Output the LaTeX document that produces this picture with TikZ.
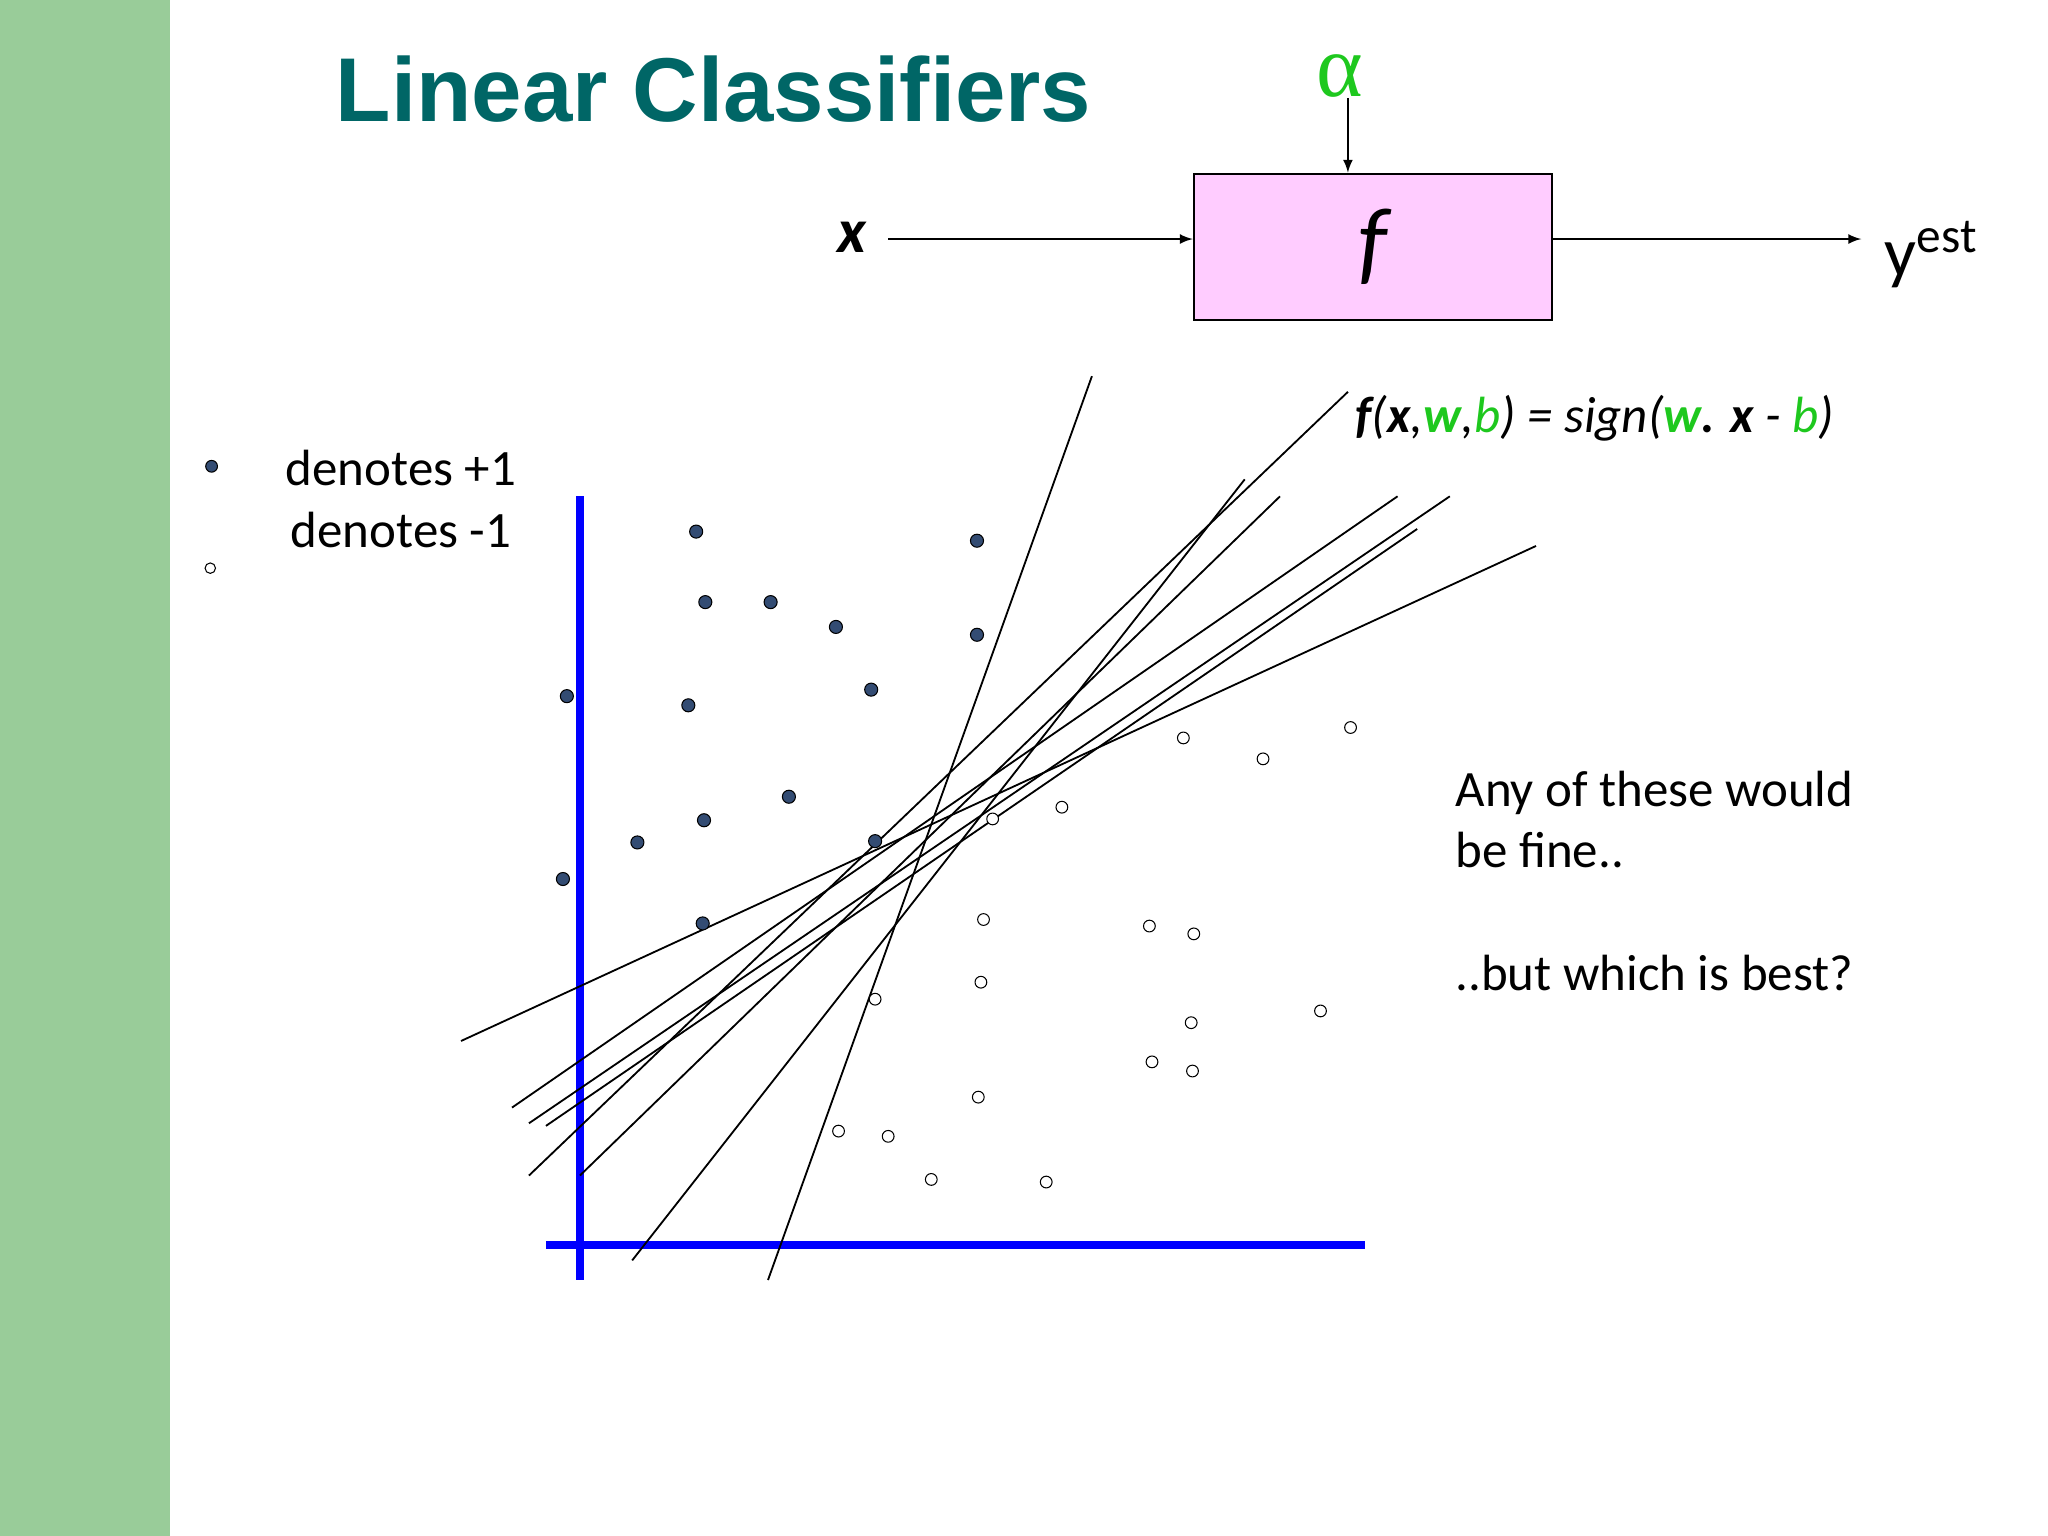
\documentclass[tikz,border=0pt]{standalone}
\usepackage{fontspec}
\setmainfont{Carlito}
\newfontfamily\titlefont{Liberation Sans}
\newfontfamily\greekfont{Liberation Serif}
\definecolor{side}{RGB}{153,204,153}
\definecolor{teal}{RGB}{0,102,102}
\definecolor{boxpink}{RGB}{255,204,255}
\definecolor{ptblue}{RGB}{51,76,115}
\definecolor{gr}{RGB}{30,200,30}
\begin{document}
\begin{tikzpicture}[x=0.5pt,y=-0.5pt,
  posdot/.style={fill=ptblue,draw=black,line width=0.4pt},
  negdot/.style={fill=white,draw=black,line width=0.4pt},
  sepline/.style={line width=0.7pt},
  arr/.style={-latex,line width=0.7pt},
  txt/.style={font=\fontsize{19.5}{23.5}\selectfont,inner sep=0pt}]
\useasboundingbox (0,0) rectangle (1568,1176);
\fill[side] (0,0) rectangle (130,1176);
\node[anchor=west,text=teal,font=\titlefont\bfseries\fontsize{34.7}{40}\selectfont] (title) at (250,68) {Linear Classifiers};
% block diagram
\node[draw=black,fill=boxpink,line width=0.8pt,minimum width=137pt,minimum height=56pt,font=\itshape\fontsize{36}{40}\selectfont] (f) at (1051,189) {f};
\node[font=\bfseries\itshape\fontsize{24}{26}\selectfont] (x) at (652,182) {x};
\node[text=gr,font=\greekfont\fontsize{34}{36}\selectfont] (al) at (1026,58) {α};
\node[anchor=west,font=\fontsize{27}{30}\selectfont] (y) at (1436,195) {y\textsuperscript{est}};
\coordinate (xa) at (680,183);
\coordinate (aa) at (1032,75);
\draw[arr] (xa) -- (xa -| f.west);
\draw[arr] (aa) -- (aa |- f.north);
\coordinate (ya) at (1425,183);
\draw[arr] (f.east |- xa) -- (ya);
% formula
\node[anchor=west,font=\itshape\fontsize{19.5}{22}\selectfont] (form) at (1031,320)
 {\textbf{f}(\textbf{x},\textcolor{gr}{\textbf{w}},\textcolor{gr}{b}) = sign(\textcolor{gr}{\textbf{w}}\textbf{.} \textbf{x} - \textcolor{gr}{b})};
% legend
\fill[posdot] (162,357) circle (4.5);
\draw[negdot] (161,435) circle (4);
\node[txt] (l1) at (307,358) {denotes +1};
\node[txt] (l2) at (307,406) {denotes -1};
\node[txt,anchor=north west,align=left] (any) at (1114,590) {Any of these would\\be fine..\\[23.5pt]..but which is best?};
% axes
\draw[blue,line width=3pt] (444,380) -- (444,980);
\draw[blue,line width=3pt] (418,953) -- (1045,953);
% lines
\draw[sepline] (836,288) -- (588,980);
\draw[sepline] (1032,300) -- (405,900);
\draw[sepline] (953,367) -- (484,965);
\draw[sepline] (980,380) -- (444,900);
\draw[sepline] (1176,418) -- (353,797);
\draw[sepline] (1110,380) -- (405,860);
\draw[sepline] (1085,405) -- (418,862);
\draw[sepline] (1070,380) -- (392,848);
% points
\foreach \p in {(533,407),(748,414),(540,461),(590,461),(640,480),(748,486),(434,533),(527,540),(667,528),(604,610),(539,628),(488,645),(670,644),(431,673),(538,707)}
  \filldraw[posdot] \p circle (5);
\foreach \p in {(906,565),(967,581),(1034,557),(760,627),(813,618),(753,704),(880,709),(914,715),(670,765),(751,752),(912,783),(1011,774),(882,813),(913,820),(749,840),(642,866),(680,870),(713,903),(801,905)}
  \draw[negdot] \p circle (4.5);
\end{tikzpicture}
\end{document}
